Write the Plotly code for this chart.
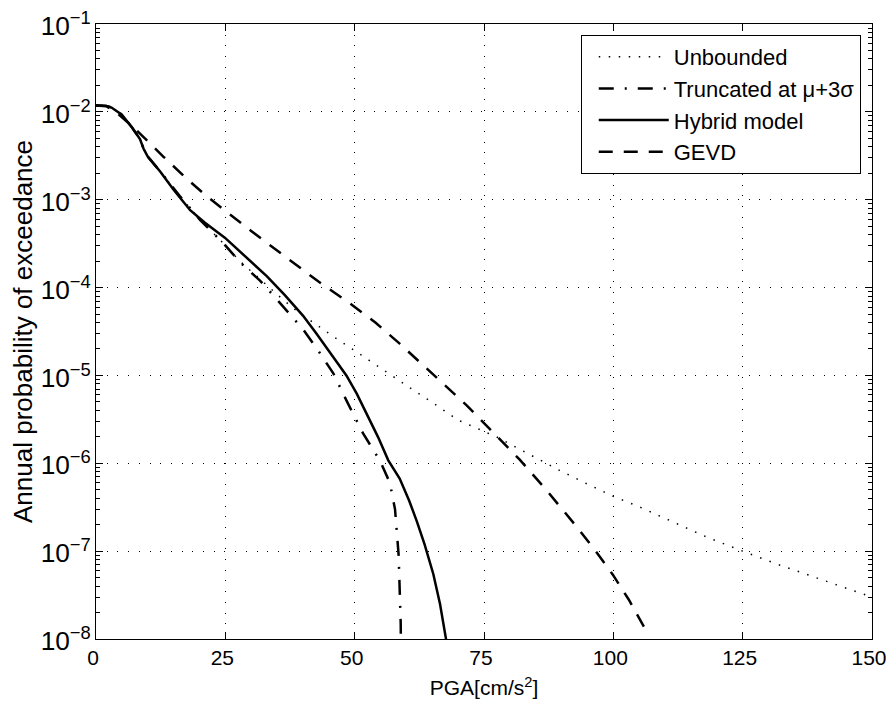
import plotly.graph_objects as go

# ---- data ----
unb_x = [0, 2, 3, 5, 7, 8.5, 9.2, 10, 12.4, 16.2, 20.1, 24.6, 28, 31, 33.6, 36.5, 39, 43, 47, 51,
         55.5, 60, 65.5, 70, 77.4, 85.8, 89.6, 95, 100, 105, 112, 118, 125, 132, 140, 150]
unb_y = [0.0118, 0.0117, 0.0112, 0.0093, 0.0066, 0.0049, 0.0038, 0.0031, 0.0021, 1.1e-3, 5.9e-4,
         3.2e-4, 1.95e-4, 1.35e-4, 1.0e-4, 7.0e-5, 5.3e-5, 3.6e-5, 2.5e-5, 1.75e-5, 1.15e-5, 7.7e-6,
         4.7e-6, 3.1e-6, 2.0e-6, 1.08e-6, 8.3e-7, 5.8e-7, 4.2e-7, 3.2e-7, 2.1e-7, 1.45e-7, 1.0e-7,
         7.0e-8, 4.8e-8, 3.0e-8]

tr_x = [0, 2, 3, 5, 7, 8.5, 9.2, 10, 12.4, 16.2, 20.1, 24.6, 28, 31.7, 34, 36.2, 40.1, 43, 45.9,
        48.4, 51.6, 54.9, 56.8, 57.8, 58.5, 58.9, 59.1]
tr_y = [0.0118, 0.0117, 0.0112, 0.0093, 0.0066, 0.0049, 0.0038, 0.0031, 0.0021, 1.1e-3, 5.9e-4,
        3.2e-4, 1.9e-4, 1.2e-4, 8.5e-5, 6.0e-5, 3.3e-5, 1.9e-5, 1.05e-5, 5.2e-6, 2.2e-6, 1.07e-6,
        6e-7, 3e-7, 9e-8, 1.5e-8, 1e-9]

hyb_x = [0, 2, 3, 5, 7, 8.5, 9.2, 10, 12.4, 15, 18.2, 21, 24.9, 29.75, 33, 36.5, 40, 42.6, 45.5,
         48.4, 50.4, 52.3, 54.5, 56.5, 58.7, 60.5, 62, 63.5, 65.2, 66.5, 67.75, 68.3]
hyb_y = [0.0118, 0.0117, 0.0112, 0.0093, 0.0066, 0.0049, 0.0038, 0.0031, 0.0021, 0.0013, 7.6e-4,
         5.5e-4, 3.7e-4, 2.05e-4, 1.35e-4, 8.2e-5, 4.8e-5, 3.0e-5, 1.75e-5, 1.0e-5, 6.2e-6, 3.7e-6,
         2.0e-6, 1.08e-6, 6.7e-7, 3.8e-7, 2.2e-7, 1.2e-7, 5.5e-8, 2.5e-8, 1.0e-8, 6e-9]

gev_x = [0, 2, 4, 7.2, 10.4, 13, 17.5, 21, 24.6, 30, 36.8, 43, 49.1, 54, 58.7, 63, 67.8, 71.6, 76,
         81.9, 87, 92.9, 96.5, 99.9, 103, 106]
gev_y = [0.0118, 0.0116, 0.0098, 6.7e-3, 4.4e-3, 3.1e-3, 1.74e-3, 1.15e-3, 7.8e-4, 4.4e-4, 2.2e-4,
         1.17e-4, 6.6e-5, 4.0e-5, 2.3e-5, 1.35e-5, 7.4e-6, 4.6e-6, 2.5e-6, 1.1e-6, 5.0e-7, 1.9e-7,
         1.02e-7, 5.4e-8, 2.8e-8, 1.35e-8]

series_names = ["Unbounded", "Truncated at \u03bc+3\u03c3", "Hybrid model", "GEVD"]
x_ticks = [0, 25, 50, 75, 100, 125, 150]

FONT = "Arial, Liberation Sans, Helvetica, sans-serif"

fig = go.Figure()
fig.add_trace(go.Scatter(x=unb_x, y=unb_y, mode="lines", name=series_names[0],
                         line=dict(color="black", width=1.5, dash="1.5px,8.5px")))
fig.add_trace(go.Scatter(x=tr_x, y=tr_y, mode="lines", name=series_names[1],
                         line=dict(color="black", width=2.5, dash="15px,11px,2px,11px")))
fig.add_trace(go.Scatter(x=hyb_x, y=hyb_y, mode="lines", name=series_names[2],
                         line=dict(color="black", width=2.5)))
fig.add_trace(go.Scatter(x=gev_x, y=gev_y, mode="lines", name=series_names[3],
                         line=dict(color="black", width=2.5, dash="14px,11px")))

axis_common = dict(
    showline=True, linecolor="black", linewidth=1, mirror="ticks",
    ticks="inside", ticklen=7, tickcolor="black", tickwidth=1,
    showgrid=True, gridcolor="black", gridwidth=1, griddash="1px,9.7px",
    zeroline=False,
    ticklabeloverflow="allow", automargin=False,
)

fig.update_xaxes(range=[0, 150], tickvals=x_ticks, ticktext=[str(v) for v in x_ticks],
                 tickfont=dict(family=FONT, size=21, color="black"), ticklabelshift=-3,
                 title=dict(text="PGA[cm/s<sup>2</sup>]", font=dict(family=FONT, size=21), standoff=12),
                 **axis_common)
fig.update_yaxes(type="log", range=[-8, -1], dtick=1, exponentformat="power",
                 tickfont=dict(family=FONT, size=21, color="black"), ticklabelshift=2,
                 minor=dict(ticks="inside", ticklen=4, tickcolor="black", showgrid=False),
                 title=dict(text="Annual probability of exceedance", font=dict(family=FONT, size=26),
                            standoff=0),
                 **axis_common)

# page body has an 8px margin, so the figure is sized to fit the 894x713 window
fig.update_layout(
    width=878, height=697,
    margin=dict(l=88, r=14, t=16, b=66),
    plot_bgcolor="white", paper_bgcolor="white",
    font=dict(family=FONT, size=22, color="black"),
    showlegend=True,
    legend=dict(x=0.9855, y=0.982, xanchor="right", yanchor="top",
                bgcolor="white", bordercolor="black", borderwidth=1,
                font=dict(family=FONT, size=22), itemwidth=70, indentation=12,
                tracegroupgap=0),
)

fig.write_html("out.html")
